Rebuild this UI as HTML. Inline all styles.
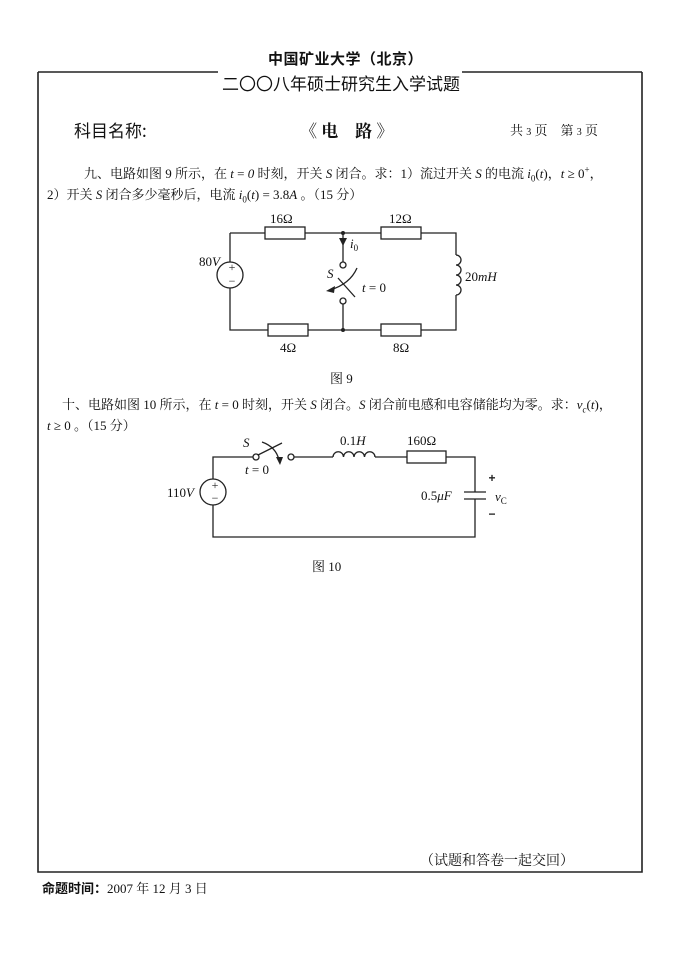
<!DOCTYPE html>
<html><head><meta charset="utf-8"><style>
body{margin:0;background:#fff;width:680px;height:962px;position:relative;overflow:hidden;font-family:"Liberation Serif","Noto Serif CJK SC",serif;color:#111}
.t{position:absolute;white-space:nowrap}
</style></head><body>
<svg width="680" height="962" style="position:absolute;left:0;top:0" font-family="Liberation Serif, Noto Serif CJK SC, serif">
<g stroke="#222" stroke-width="1.6" fill="none">
<path d="M38 72H218 M462 72H642 M38 72V872H642V72"/>
</g>
<!-- circuit 9 -->
<g stroke="#222" stroke-width="1.3" fill="none">
<path d="M230 233H265 M305 233H381 M421 233H456V255 M456 295V330H421 M381 330H308 M268 330H230V288 M230 262V233"/>
<rect x="265" y="227" width="40" height="12"/><rect x="381" y="227" width="40" height="12"/>
<rect x="268" y="324" width="40" height="12"/><rect x="381" y="324" width="40" height="12"/>
<circle cx="230" cy="275" r="13"/>
<path d="M456 255a5 5 0 0 1 0 10a5 5 0 0 1 0 10a5 5 0 0 1 0 10a5 5 0 0 1 0 10"/>
<path d="M343 233V262 M343 304V330"/>
<circle cx="343" cy="265" r="3"/><circle cx="343" cy="301" r="3"/>
<path d="M338 278L355 297"/>
<path d="M357 268Q350 284 330 290"/>
</g>
<path d="M343 246l-4 -8h8z" fill="#222"/>
<path d="M326 291l9 -5l-1 7z" fill="#222"/>
<circle cx="343" cy="233" r="2" fill="#222"/><circle cx="343" cy="330" r="2" fill="#222"/>
<g font-size="12" fill="#222" text-anchor="middle">
<text x="232" y="271">+</text><text x="232" y="285">−</text>
</g>
<g font-size="13" fill="#111">
<text x="270" y="223">16Ω</text><text x="389" y="223">12Ω</text>
<text x="280" y="352">4Ω</text><text x="393" y="352">8Ω</text>
<text x="199" y="266">80<tspan font-style="italic">V</tspan></text>
<text x="465" y="281">20<tspan font-style="italic">mH</tspan></text>
<text x="350" y="248" font-style="italic">i<tspan font-size="9" dy="3" font-style="normal">0</tspan></text>
<text x="327" y="278" font-style="italic">S</text>
<text x="362" y="292"><tspan font-style="italic">t</tspan> = 0</text>
</g>
<!-- circuit 10 -->
<g stroke="#222" stroke-width="1.3" fill="none">
<path d="M213 479V457H253 M294 457H333 M375 457H407 M446 457H475V492 M475 499V537H213V505"/>
<circle cx="213" cy="492" r="13"/>
<circle cx="256" cy="457" r="3"/><circle cx="291" cy="457" r="3"/>
<path d="M258 455L282 443"/>
<path d="M262 442Q276 447 279 460"/>
<path d="M333 457a5.25 5.25 0 0 1 10.5 0a5.25 5.25 0 0 1 10.5 0a5.25 5.25 0 0 1 10.5 0a5.25 5.25 0 0 1 10.5 0"/>
<rect x="407" y="451" width="39" height="12"/>
<path d="M464 492H486 M464 499H486"/>
</g>
<path d="M280 465l-4 -8h7z" fill="#222"/>
<g font-size="12" fill="#222" text-anchor="middle" font-family="Liberation Sans, sans-serif" font-weight="bold">
<text x="215" y="489" font-family="Liberation Serif" font-weight="normal">+</text><text x="215" y="502" font-family="Liberation Serif" font-weight="normal">−</text>
<text x="492" y="482">+</text><text x="492" y="518">−</text>
</g>
<g font-size="13" fill="#111">
<text x="243" y="447" font-style="italic">S</text>
<text x="245" y="474"><tspan font-style="italic">t</tspan> = 0</text>
<text x="340" y="445">0.1<tspan font-style="italic">H</tspan></text>
<text x="407" y="445">160Ω</text>
<text x="167" y="497">110<tspan font-style="italic">V</tspan></text>
<text x="421" y="500">0.5<tspan font-style="italic">μF</tspan></text>
<text x="495" y="501" font-style="italic">v<tspan font-size="9" dy="3" font-style="normal">C</tspan></text>
</g>
</svg>
<div class="t" style="left:268px;top:48px;font-size:15px;font-family:'Noto Sans CJK SC',sans-serif;font-weight:bold;letter-spacing:0.5px">中国矿业大学（北京）</div>
<div class="t" style="left:222px;top:70px;font-size:17px;font-family:'Noto Sans CJK SC',sans-serif">二〇〇八年硕士研究生入学试题</div>
<div class="t" style="left:74px;top:117px;font-size:17px;font-family:'Noto Sans CJK SC',sans-serif">科目名称:</div>
<div class="t" style="left:300px;top:117px;font-size:17px;font-weight:bold">《 电　路 》</div>
<div class="t" style="left:510px;top:120px;font-size:13px">共 <span style="font-size:10px">3</span> 页　第 <span style="font-size:10px">3</span> 页</div>
<div class="t" style="left:84px;top:163px;font-size:13px">九、电路如图 9 所示，在 <i>t</i> = <i>0</i> 时刻，开关 <i>S</i> 闭合。求：1）流过开关 <i>S</i> 的电流 <i>i</i><sub style="font-size:9px">0</sub>(<i>t</i>)，<i>t</i> ≥ 0<sup style="font-size:9px">+</sup>，</div>
<div class="t" style="left:47px;top:184px;font-size:13px">2）开关 <i>S</i> 闭合多少毫秒后，电流 <i>i</i><sub style="font-size:9px">0</sub>(<i>t</i>) = 3.8<i>A</i> 。（15 分）</div>
<div class="t" style="left:330px;top:368px;font-size:13px">图 9</div>
<div class="t" style="left:62px;top:394px;font-size:13px">十、电路如图 10 所示，在 <i>t</i> = 0 时刻，开关 <i>S</i> 闭合。<i>S</i> 闭合前电感和电容储能均为零。求：<i>v<sub style="font-size:9px">c</sub></i>(<i>t</i>)，</div>
<div class="t" style="left:47px;top:415px;font-size:13px"><i>t</i> ≥ 0 。（15 分）</div>
<div class="t" style="left:312px;top:556px;font-size:13px">图 10</div>
<div class="t" style="left:420px;top:850px;font-size:14px">（试题和答卷一起交回）</div>
<div class="t" style="left:42px;top:878px;font-size:13px"><b style="font-family:'Noto Sans CJK SC',sans-serif">命题时间：</b>2007 年 12 月 3 日</div>
</body></html>
